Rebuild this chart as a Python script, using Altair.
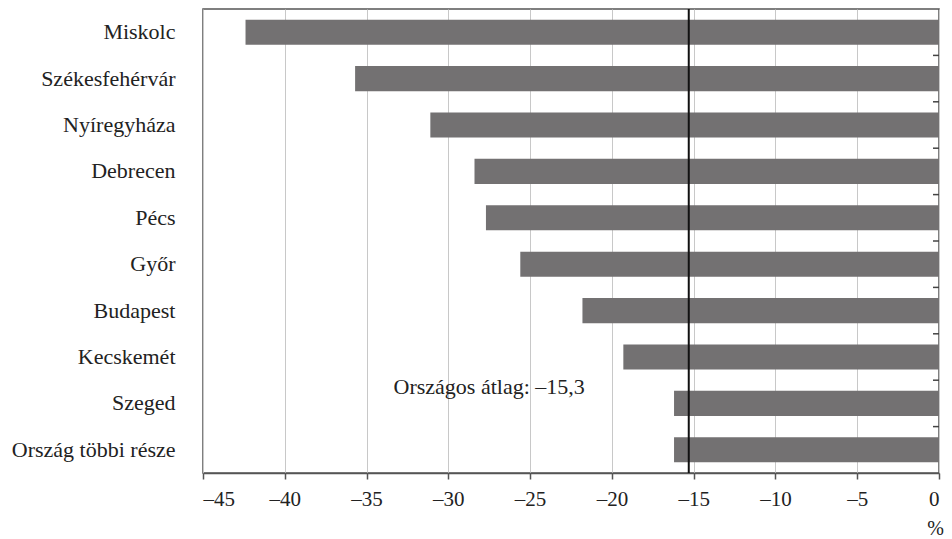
import altair as alt
import pandas as pd

cities = ["Miskolc", "Székesfehérvár", "Nyíregyháza", "Debrecen", "Pécs", "Győr",
          "Budapest", "Kecskemét", "Szeged", "Ország többi része"]
values = [-42.4, -35.7, -31.1, -28.4, -27.7, -25.6, -21.8, -19.3, -16.2, -16.2]
avg_value = -15.3
avg_label = "Országos átlag: –15,3"
avg_label_row = 8  # boundary between Kecskemét and Szeged
x_ticks = [-45, -40, -35, -30, -25, -20, -15, -10, -5, 0]
boundaries = list(range(1, len(cities)))  # category boundaries for the right-side ticks

df = pd.DataFrame({"city": cities, "value": values})
avg_df = pd.DataFrame({"value": [avg_value], "label": [avg_label], "k": [avg_label_row]})
bnd_df = pd.DataFrame({"k": boundaries})

FONT = "Liberation Serif"

x_scale = alt.Scale(domain=[-45, 0], nice=False)
y_scale = alt.Scale(domain=cities, paddingInner=0.46, paddingOuter=0.23)
k_scale = alt.Scale(domain=[0, len(cities)], reverse=True, nice=False, zero=False)

label_expr = "datum.value < 0 ? '–' + abs(datum.value) : '' + datum.value"

bars = alt.Chart(df).mark_bar(color="#737172").encode(
    x=alt.X("value:Q", scale=x_scale,
            axis=alt.Axis(values=x_ticks, labelExpr=label_expr, title="%",
                          titleX=732, titleY=61, titleAlign="center", titleBaseline="alphabetic",
                          titleFontWeight="normal", titleFont=FONT, titleFontSize=20, titleColor="#222",
                          grid=True, gridColor="#c8c8c8", gridWidth=1,
                          domainColor="#555", domainWidth=1.5, tickColor="#555", tickWidth=1.5,
                          tickSize=6, labelPadding=9, labelFont=FONT, labelFontSize=21,
                          labelColor="#222")),
    x2=alt.datum(0),
    y=alt.Y("city:N", scale=y_scale, sort=cities,
            axis=alt.Axis(title=None, ticks=False, domain=False, labelPadding=28,
                          labelFont=FONT, labelFontSize=22, labelColor="#222", grid=False)),
)

right_ticks = alt.Chart(bnd_df).mark_rule(color="#444", strokeWidth=1.5, x2Offset=-6).encode(
    x=alt.X(datum=0, scale=x_scale),
    x2=alt.datum(0),
    y=alt.Y("k:Q", scale=k_scale, axis=None),
)

avg_rule = alt.Chart(avg_df).mark_rule(color="#111", strokeWidth=2).encode(
    x=alt.X("value:Q", scale=x_scale)
)

avg_text = alt.Chart(avg_df).mark_text(font=FONT, fontSize=22, color="#222", align="right",
                                       baseline="middle", dx=-104, dy=7).encode(
    x=alt.X("value:Q", scale=x_scale),
    y=alt.Y("k:Q", scale=k_scale, axis=None),
    text="label:N",
)

chart = alt.layer(bars, right_ticks, avg_rule, avg_text).resolve_scale(
    y="independent").resolve_axis(y="independent").properties(
    width=736, height=464, background="white",
    padding={"left": 3, "top": 0, "right": 0, "bottom": 0},
).configure_view(stroke="#555", strokeWidth=1.5)

chart.save("out.html", embed_options={"renderer": "svg", "actions": False})
